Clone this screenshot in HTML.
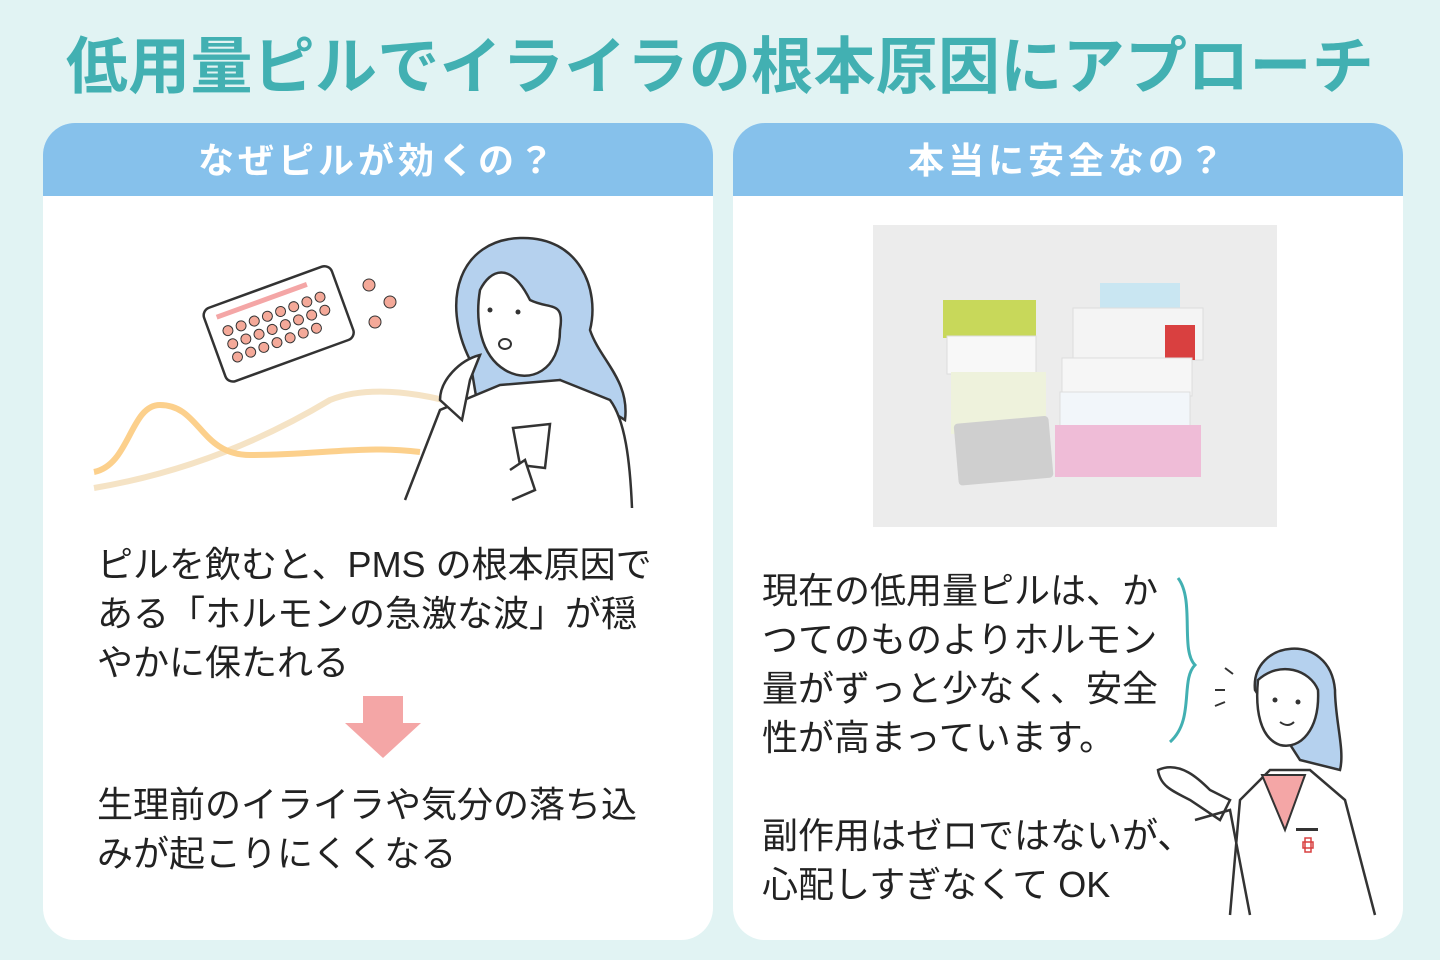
<!DOCTYPE html>
<html><head><meta charset="utf-8"><style>
*{margin:0;padding:0;box-sizing:border-box}
body{width:1440px;height:960px;background:#e1f3f3;position:relative;overflow:hidden;font-family:"Liberation Sans","Noto Sans CJK JP",sans-serif}
.title{position:absolute;left:0;width:1440px;top:30px;text-align:center;font-size:62px;font-weight:bold;color:#42b0b2;letter-spacing:0.3px;line-height:76px}
.card{position:absolute;top:123px;width:670px;height:817px;background:#fff;border-radius:32px;overflow:hidden}
.hd{height:73px;background:#86c1eb;color:#fff;font-size:36px;font-weight:bold;text-align:center;line-height:75px;letter-spacing:4px}
.t{position:absolute;font-size:36px;color:#222;line-height:49px;white-space:nowrap}
</style></head><body>
<div class="title">低用量ピルでイライラの根本原因にアプローチ</div>
<div class="card" style="left:43px">
<div class="hd">なぜピルが効くの？</div>
<div class="t" style="left:54px;top:417px">ピルを飲むと、PMS の根本原因で<br>ある「ホルモンの急激な波」が穏<br>やかに保たれる</div>
<div class="t" style="left:54px;top:657px">生理前のイライラや気分の落ち込<br>みが起こりにくくなる</div>
</div>
<div class="card" style="left:733px">
<div class="hd">本当に安全なの？</div>
<div class="t" style="left:29px;top:443px">現在の低用量ピルは、か<br>つてのものよりホルモン<br>量がずっと少なく、安全<br>性が高まっています。</div>
<div class="t" style="left:29px;top:688px">副作用はゼロではないが、<br>心配しすぎなくて OK</div>
</div>
<svg width="1440" height="960" style="position:absolute;left:0;top:0">
<rect x="363" y="696" width="40" height="28" fill="#f4a6a6"/>
<polygon points="345,723 421,723 383,758" fill="#f4a6a6"/>
<path d="M94,488 C200,470 280,430 330,400 C380,380 460,400 500,420 C520,430 540,420 560,425" stroke="#f5e3c5" stroke-width="6" fill="none"/>
<path d="M94,472 C130,465 130,405 160,405 C200,405 200,455 250,455 C320,455 360,445 420,452" stroke="#fcd08c" stroke-width="6" fill="none"/>
<g transform="rotate(-20 278 322)">
<rect x="210" y="285" width="136" height="78" rx="8" fill="#fff" stroke="#333" stroke-width="2.5"/>
<rect x="222" y="294" width="96" height="5" fill="#f4a6a6"/>
<g fill="#f4a999" stroke="#333" stroke-width="1">
<circle cx="228" cy="313" r="5"/><circle cx="242" cy="313" r="5"/><circle cx="256" cy="313" r="5"/><circle cx="270" cy="313" r="5"/><circle cx="284" cy="313" r="5"/><circle cx="298" cy="313" r="5"/><circle cx="312" cy="313" r="5"/><circle cx="326" cy="313" r="5"/>
<circle cx="228" cy="327" r="5"/><circle cx="242" cy="327" r="5"/><circle cx="256" cy="327" r="5"/><circle cx="270" cy="327" r="5"/><circle cx="284" cy="327" r="5"/><circle cx="298" cy="327" r="5"/><circle cx="312" cy="327" r="5"/><circle cx="326" cy="327" r="5"/>
<circle cx="228" cy="341" r="5"/><circle cx="242" cy="341" r="5"/><circle cx="256" cy="341" r="5"/><circle cx="270" cy="341" r="5"/><circle cx="284" cy="341" r="5"/><circle cx="298" cy="341" r="5"/><circle cx="312" cy="341" r="5"/>
</g></g>
<g fill="#f4a999" stroke="#333" stroke-width="1"><circle cx="369" cy="285" r="6"/><circle cx="390" cy="302" r="6"/><circle cx="375" cy="322" r="6"/></g>
<path d="M470,360 C440,300 460,240 520,238 C580,236 600,290 590,330 C600,360 630,380 625,420 L560,380 L480,420 Z" fill="#b5d1ee" stroke="#333" stroke-width="2.5"/>
<path d="M480,290 C490,270 510,260 530,300 C550,310 565,300 560,330 C560,370 530,385 505,370 C480,355 475,320 480,290 Z" fill="#fff" stroke="#333" stroke-width="2.5"/>
<ellipse cx="505" cy="344" rx="6" ry="5" fill="#fff" stroke="#333" stroke-width="2"/>
<circle cx="490" cy="310" r="2.5" fill="#333"/><circle cx="518" cy="312" r="2.5" fill="#333"/>
<path d="M405,500 L440,410 L500,385 L560,380 L610,400 C625,420 630,460 632,508" fill="#fff" stroke="#333" stroke-width="2.5"/>
<path d="M440,400 C440,380 460,360 480,355 L470,380 L462,420 Z" fill="#fff" stroke="#333" stroke-width="2.5"/>
<path d="M513,428 L550,424 L545,468 L520,465 Z" fill="#fff" stroke="#333" stroke-width="2.5"/>
<path d="M510,470 L525,460 L535,490 L512,500" fill="#fff" stroke="#333" stroke-width="2.5"/>
<rect x="873" y="225" width="404" height="302" fill="#ececec"/>
<rect x="943" y="300" width="93" height="38" fill="#c8d85a"/>
<rect x="947" y="336" width="89" height="38" fill="#f8f8f8" stroke="#ddd"/>
<rect x="951" y="372" width="95" height="62" fill="#eef2dc"/>
<rect x="1100" y="283" width="80" height="30" fill="#c9e6f2"/>
<rect x="1073" y="308" width="130" height="52" fill="#f4f4f4" stroke="#ddd"/>
<rect x="1165" y="325" width="30" height="35" fill="#d94040"/>
<rect x="1062" y="358" width="130" height="38" fill="#f6f6f6" stroke="#ddd"/>
<rect x="1060" y="392" width="130" height="36" fill="#f2f6fa" stroke="#ddd"/>
<rect x="1055" y="425" width="146" height="52" fill="#efbcd7"/>
<rect x="956" y="420" width="95" height="62" rx="4" fill="#cfcfcf" transform="rotate(-5 1000 450)"/>
<path d="M1178,578 C1195,600 1180,650 1195,665 C1180,680 1195,720 1170,742" stroke="#42b0b2" stroke-width="3" fill="none"/>
<path d="M1225,668 l8,6 M1215,690 l10,0 M1215,706 l10,-4" stroke="#333" stroke-width="2"/>
<path d="M1255,690 C1250,640 1330,630 1335,690 C1335,720 1345,750 1340,770 L1300,760 Z" fill="#b5d1ee" stroke="#333" stroke-width="2.5"/>
<path d="M1258,680 C1280,660 1310,670 1318,690 C1320,730 1300,750 1280,745 C1260,738 1255,710 1258,680 Z" fill="#fff" stroke="#333" stroke-width="2.5"/>
<circle cx="1275" cy="700" r="2.5" fill="#333"/><circle cx="1298" cy="702" r="2.5" fill="#333"/>
<path d="M1280,722 q8,6 14,0" stroke="#333" stroke-width="2" fill="none"/>
<path d="M1230,915 L1240,800 L1270,770 L1310,770 L1345,800 L1375,915" fill="#fff" stroke="#333" stroke-width="2.5"/>
<path d="M1262,775 L1305,775 L1285,830 Z" fill="#f4a6a6" stroke="#333" stroke-width="2"/>
<path d="M1158,770 C1180,760 1200,780 1210,790 L1230,800 L1220,820 L1190,800 C1170,790 1160,785 1158,770 Z" fill="#fff" stroke="#333" stroke-width="2.5"/>
<path d="M1195,820 L1230,810 L1250,915" fill="none" stroke="#333" stroke-width="2.5"/>
<rect x="1296" y="828" width="22" height="3" fill="#333"/>
<path d="M1303,842 h10 v6 h-10 z M1305,838 h6 v14 h-6 z" fill="none" stroke="#d94040" stroke-width="1.5"/>
</svg>
</body></html>
